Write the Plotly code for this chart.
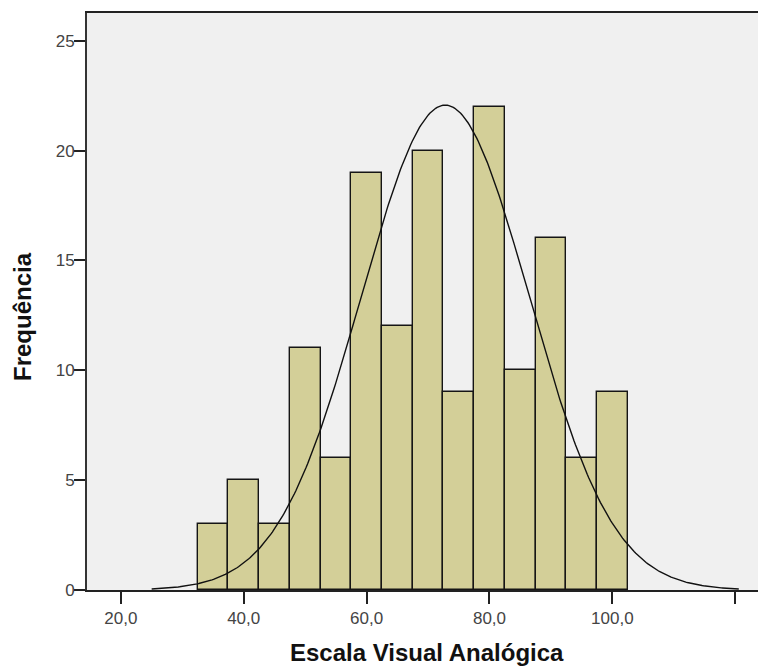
import numpy as np
import plotly.graph_objects as go

# Histogram bins (centers, width 5) and frequencies
bin_centers = [35, 40, 45, 50, 55, 60, 65, 70, 75, 80, 85, 90, 95, 100]
frequencies = [3, 5, 3, 11, 6, 19, 12, 20, 9, 22, 10, 16, 6, 9]
bin_width = 5.0

# Fitted normal curve parameters (SPSS overlay)
curve_mean = 72.8
curve_sd = 13.65

x_tickvals = [20, 40, 60, 80, 100, 120]
x_ticktext = ["20,0", "40,0", "60,0", "80,0", "100,0", ""]
y_tickvals = [0, 5, 10, 15, 20, 25]
x_title = "Escala Visual Analógica"
y_title = "Frequência"

n_total = sum(frequencies)
xc = np.linspace(curve_mean - 3.5 * curve_sd, curve_mean + 3.5 * curve_sd, 400)
yc = n_total * bin_width / (curve_sd * np.sqrt(2 * np.pi)) * np.exp(-0.5 * ((xc - curve_mean) / curve_sd) ** 2)

fig = go.Figure()
fig.add_trace(go.Bar(
    x=bin_centers, y=frequencies, width=bin_width,
    marker=dict(color="#D3CF98", line=dict(color="#151515", width=1.4)),
    hoverinfo="x+y",
))
fig.add_trace(go.Scatter(
    x=xc, y=yc, mode="lines",
    line=dict(color="#111111", width=1.4),
    hoverinfo="skip",
))

W, H = 758, 666
fig.update_layout(
    width=W, height=H,
    margin=dict(l=87, r=0, t=13, b=76),
    paper_bgcolor="white",
    plot_bgcolor="#F0F0F0",
    showlegend=False,
    bargap=0,
    font=dict(family="Liberation Sans, Arial, sans-serif", color="#444444"),
    xaxis=dict(
        range=[14.5, 123.7],
        tickvals=x_tickvals, ticktext=x_ticktext,
        ticks="outside", ticklen=12, tickwidth=1.5, tickcolor="#222222",
        showline=True, linecolor="#222222", linewidth=1.8, mirror=True,
        showgrid=False, zeroline=False,
        tickfont=dict(size=17, color="#444444"),
    ),
    yaxis=dict(
        range=[0, 26.26],
        tickvals=y_tickvals,
        ticks="outside", ticklen=11, tickwidth=1.5, tickcolor="#222222",
        showline=True, linecolor="#333333", linewidth=1.8,
        showgrid=False, zeroline=False,
        tickfont=dict(size=17, color="#444444"),
        ticklabelstandoff=-4,
    ),
    annotations=[
        dict(text="<b>" + x_title + "</b>", xref="paper", yref="paper",
             x=(427 - 87) / (W - 87), y=-(652 - 590) / (590 - 13),
             xanchor="center", yanchor="middle", showarrow=False,
             font=dict(size=24, color="#111111")),
        dict(text="<b>" + y_title + "</b>", xref="paper", yref="paper",
             x=-(87 - 22) / (W - 87), y=(590 - 317) / (590 - 13),
             xanchor="center", yanchor="middle", textangle=-90, showarrow=False,
             font=dict(size=24, color="#111111")),
    ],
)

fig.write_html("out.html")
